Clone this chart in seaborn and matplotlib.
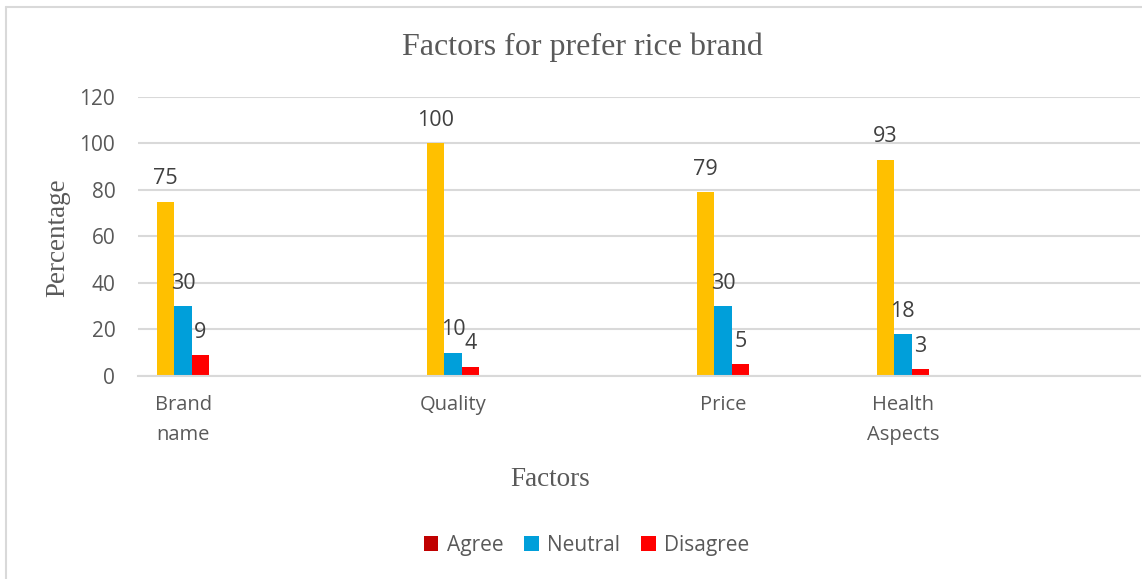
import matplotlib
matplotlib.use("Agg")
import matplotlib.pyplot as plt
from matplotlib.patches import Patch
from matplotlib.lines import Line2D
import seaborn as sns
import pandas as pd

# Category slots along the x axis (blank slots keep the uneven spacing)
slots = ["Brand name", " ", "  ", "Quality", "   ", "    ", "Price", "     ",
         "Health Aspects", "      ", "       "]
slot_labels = ["Brand\nname", "", "", "Quality", "", "", "Price", "",
               "Health\nAspects", "", ""]

factors = ["Brand name", "Quality", "Price", "Health Aspects"]
agree = [75, 100, 79, 93]
neutral = [30, 10, 30, 18]
disagree = [9, 4, 5, 3]
responses = ["Agree", "Neutral", "Disagree"]
y_ticks = [0, 20, 40, 60, 80, 100, 120]

bar_colors = {"Agree": "#FFC000", "Neutral": "#009FDA", "Disagree": "#FF0000"}
legend_colors = {"Agree": "#C00000", "Neutral": "#009FDA", "Disagree": "#FF0000"}
text_color = "#595959"
grid_color = "#D9D9D9"

rows = []
for f, a, n, d in zip(factors, agree, neutral, disagree):
    rows += [(f, "Agree", a), (f, "Neutral", n), (f, "Disagree", d)]
df = pd.DataFrame(rows, columns=["Factor", "Response", "Value"])

sns.set_theme(style="white")
plt.rcParams["font.family"] = ["Open Sans", "DejaVu Sans"]

fig = plt.figure(figsize=(11.42, 5.79), dpi=100)
ax = fig.add_axes([0.121, 0.3506, 0.877, 0.4819])

sns.barplot(data=df, x="Factor", y="Value", hue="Response", order=slots,
            hue_order=responses, palette=bar_colors, width=0.58, gap=0,
            linewidth=0, saturation=1, ax=ax, legend=False)

# Value labels above each bar
for container in ax.containers:
    ax.bar_label(container, fmt="%g", padding=9, fontsize=15.5, color="#404040")

ax.set_ylim(0, 120)
ax.set_xlim(-0.5, -0.5 + 1002 / 90)
ax.set_yticks(y_ticks)
ax.set_yticklabels([str(t) for t in y_ticks], fontsize=15, color=text_color)
ax.set_xticks(range(len(slots)))
ax.set_xticklabels(slot_labels, fontsize=14.5, color=text_color,
                   linespacing=1.65, va="top")
ax.tick_params(axis="both", length=0)
ax.tick_params(axis="x", pad=14)
ax.tick_params(axis="y", pad=16.5)

ax.yaxis.grid(True, color=grid_color, linewidth=1.5)
ax.set_axisbelow(True)
for side in ["top", "right", "left"]:
    ax.spines[side].set_visible(False)
ax.spines["bottom"].set_color(grid_color)
ax.spines["bottom"].set_linewidth(1.5)

ax.set_xlabel("")
ax.set_ylabel("")
fig.text(0.4816, 0.171, "Factors", ha="center", va="center",
         family="Liberation Serif", fontsize=19.5, color=text_color)
fig.text(0.051, 0.589, "Percentage", ha="center", va="center", rotation=90,
         family="Liberation Serif", fontsize=19.5, color=text_color)
fig.text(0.5096, 0.919, "Factors for prefer rice brand", ha="center",
         va="center", family="Liberation Serif", fontsize=23, color=text_color)

handles = [Patch(facecolor=legend_colors[r], edgecolor="none", label=r)
           for r in responses]
fig.legend(handles=handles, loc="center", bbox_to_anchor=(0.5136, 0.0587),
           ncol=3, frameon=False, fontsize=15, handlelength=0.7,
           handleheight=0.7, handletextpad=0.4, columnspacing=1.0,
           labelcolor=text_color)

# Chart area frame (top and left edges)
fig.add_artist(Line2D([6 / 1142, 1.0], [1 - 7 / 579, 1 - 7 / 579],
                      transform=fig.transFigure, color=grid_color, linewidth=1.5))
fig.add_artist(Line2D([6 / 1142, 6 / 1142], [0.0, 1 - 7 / 579],
                      transform=fig.transFigure, color=grid_color, linewidth=1.5))

fig.savefig("out.png", dpi=100)
